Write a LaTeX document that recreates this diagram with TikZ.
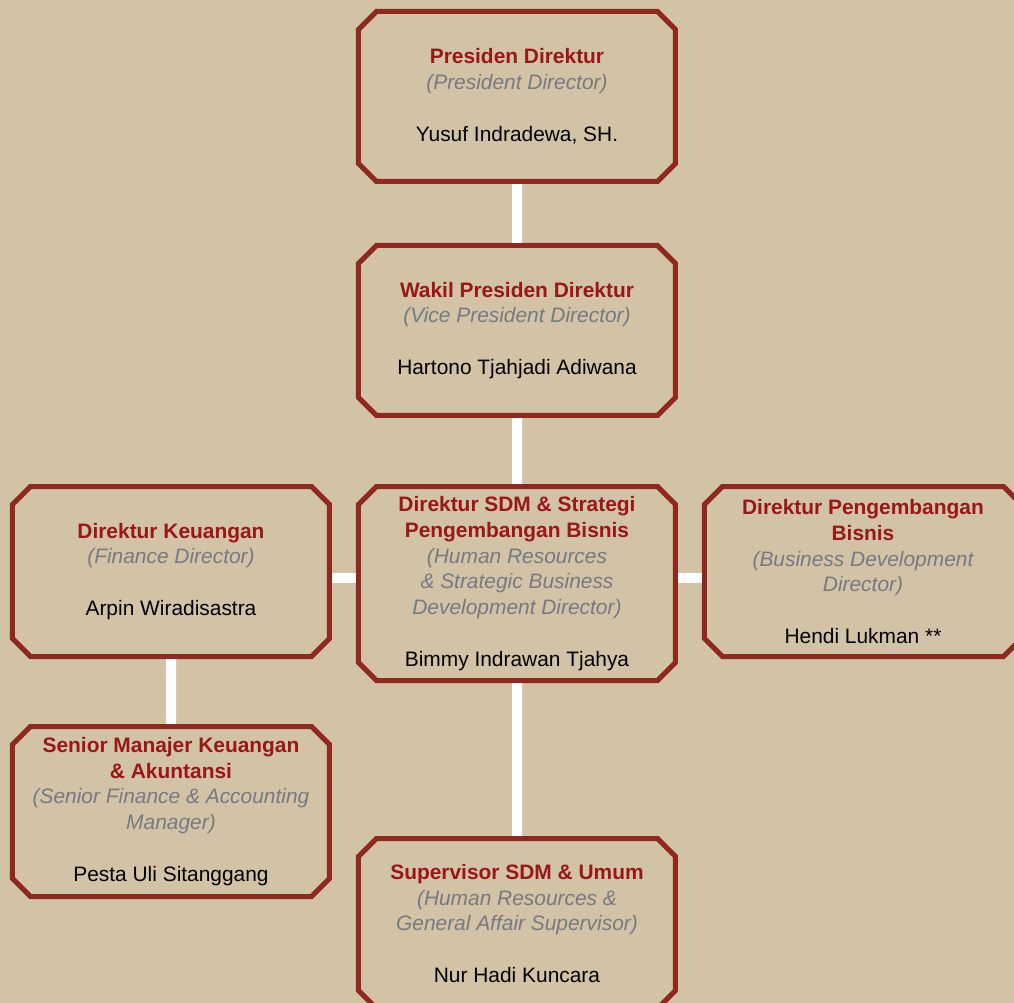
\documentclass[tikz,border=0pt]{standalone}
\usepackage{fontspec}
\setmainfont{Liberation Sans}
\usetikzlibrary{positioning,shapes.misc}

\definecolor{latar}{RGB}{210,195,167}
\definecolor{bingkai}{RGB}{143,40,30}
\definecolor{merah}{RGB}{155,22,22}
\definecolor{abu}{RGB}{118,122,128}
\newcommand{\jab}[1]{{\bfseries\color{merah}#1}}
\newcommand{\ing}[1]{{\itshape\color{abu}#1}}

\begin{document}
\begin{tikzpicture}[node distance=1.2cm,
  kotak/.style={draw=bingkai,line width=0.1cm,fill=latar,
    chamfered rectangle,chamfered rectangle xsep=0.18cm,chamfered rectangle ysep=0.18cm,
    minimum width=6.34cm,minimum height=3.4cm,inner sep=0pt,align=center,
    font=\fontsize{11.9}{14.7}\selectfont},
  link/.style={white,line width=0.2cm}]
  \clip (-10.34,1.93) rectangle (9.94,-18.13);
  \fill[latar] (-10.34,1.93) rectangle (9.94,-18.13);

  \node[kotak] (presdir) {\jab{Presiden Direktur}\\ \ing{(President Director)}\\[14.7pt]
    Yusuf Indradewa, SH.};
  \node[kotak,below=1.18cm of presdir] (wapres) {\jab{Wakil Presiden Direktur}\\
    \ing{(Vice President Director)}\\[14.7pt] Hartono Tjahjadi Adiwana};
  \node[kotak,minimum height=3.88cm,below=1.32cm of wapres] (sdm) {\jab{Direktur SDM \& Strategi}\\
    \jab{Pengembangan Bisnis}\\ \ing{(Human Resources}\\ \ing{\& Strategic Business}\\
    \ing{Development Director)}\\[14.7pt] Bimmy Indrawan Tjahya};
  \node[kotak,left=0.48cm of sdm,yshift=0.24cm] (keu) {\jab{Direktur Keuangan}\\
    \ing{(Finance Director)}\\[14.7pt] Arpin Wiradisastra};
  \node[kotak,right=0.48cm of sdm,yshift=0.24cm] (bisnis) {\jab{Direktur Pengembangan}\\
    \jab{Bisnis}\\ \ing{(Business Development}\\ \ing{Director)}\\[14.7pt] Hendi Lukman **};
  \node[kotak,below=1.3cm of keu] (senior) {\jab{Senior Manajer Keuangan}\\ \jab{\& Akuntansi}\\
    \ing{(Senior Finance \& Accounting}\\ \ing{Manager)}\\[14.7pt] Pesta Uli Sitanggang};
  \node[kotak,below=3.06cm of sdm] (spv) {\jab{Supervisor SDM \& Umum}\\
    \ing{(Human Resources \&}\\ \ing{General Affair Supervisor)}\\[14.7pt] Nur Hadi Kuncara};

  \draw[link] (presdir) -- (wapres);
  \draw[link] (wapres) -- (sdm);
  \draw[link] ([yshift=0.11cm]sdm.west) -- ([yshift=0.11cm]sdm.west -| keu.east);
  \draw[link] ([yshift=0.11cm]sdm.east) -- ([yshift=0.11cm]sdm.east -| bisnis.west);
  \draw[link] (keu) -- (senior);
  \draw[link] (sdm) -- (spv);
\end{tikzpicture}
\end{document}
